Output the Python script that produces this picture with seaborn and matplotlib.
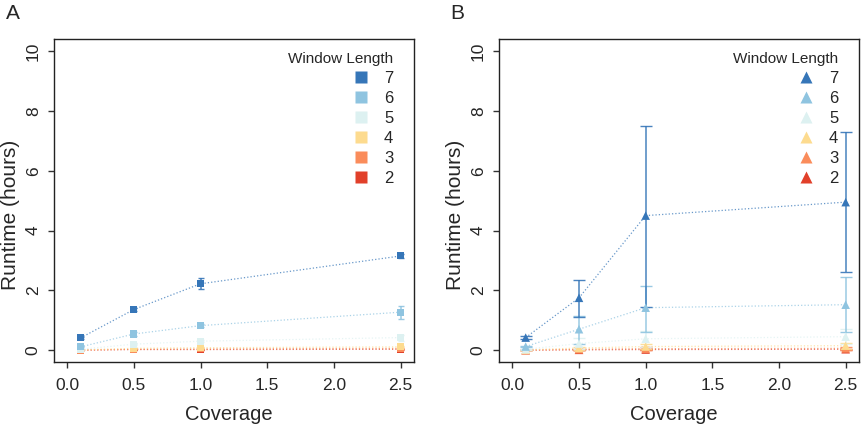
import seaborn as sns
from matplotlib import pyplot as plt
from matplotlib.lines import Line2D
import numpy as np
import pandas as pd

coverage = [0.1, 0.5, 1.0, 2.5]
windows = [7, 6, 5, 4, 3, 2]
colors = ["#3676b8", "#8fc4e0", "#ddf1f1", "#fddb8f", "#fa8c5b", "#e1402a"]

# panel A: mean runtime and half-width of error bars, one row per window length
a_mean = [[0.41, 1.36, 2.22, 3.15],
          [0.11, 0.54, 0.82, 1.27],
          [0.03, 0.20, 0.30, 0.42],
          [0.01, 0.06, 0.08, 0.11],
          [0.00, 0.03, 0.04, 0.06],
          [0.00, 0.02, 0.02, 0.03]]
a_err = [[0.03, 0.04, 0.18, 0.06],
         [0.02, 0.08, 0.04, 0.22],
         [0.01, 0.03, 0.04, 0.10],
         [0.00, 0.01, 0.01, 0.02],
         [0.00, 0.00, 0.01, 0.01],
         [0.00, 0.00, 0.00, 0.01]]

# panel B: mean runtime with lower / upper ends of error bars
b_mean = [[0.42, 1.75, 4.50, 4.95],
          [0.12, 0.70, 1.42, 1.52],
          [0.03, 0.22, 0.38, 0.45],
          [0.01, 0.07, 0.12, 0.15],
          [0.00, 0.03, 0.05, 0.06],
          [0.00, 0.01, 0.02, 0.03]]
b_lo = [[0.38, 1.10, 1.45, 2.60],
        [0.10, 0.22, 0.60, 0.60],
        [0.02, 0.05, 0.10, 0.20],
        [0.00, 0.02, 0.03, 0.05],
        [0.00, 0.01, 0.01, 0.02],
        [0.00, 0.00, 0.00, 0.01]]
b_hi = [[0.46, 2.36, 7.50, 7.30],
        [0.14, 1.13, 2.15, 2.43],
        [0.04, 0.40, 0.65, 0.70],
        [0.02, 0.12, 0.20, 0.25],
        [0.00, 0.05, 0.09, 0.10],
        [0.00, 0.02, 0.04, 0.05]]

sns.set_style("white")
plt.rcParams['font.family'] = ['Liberation Sans', 'DejaVu Sans']


def draw_panel(ax, mean, lo, hi, marker, msize, capsize, letter):
    rows = []
    for w, m in zip(windows, mean):
        for c, v in zip(coverage, m):
            rows.append({'coverage': c, 'runtime': v, 'window': str(w)})
    df = pd.DataFrame(rows)
    pal = dict(zip([str(w) for w in windows], colors))
    # draw smallest window first so 7 ends on top
    order = [str(w) for w in windows][::-1]
    sns.lineplot(data=df, x='coverage', y='runtime', hue='window', hue_order=order,
                 palette=pal, linestyle=':', linewidth=0.9, alpha=0.75,
                 legend=False, ax=ax)
    for i in reversed(range(len(windows))):
        m = np.array(mean[i])
        yerr = np.vstack([m - np.array(lo[i]), np.array(hi[i]) - m])
        ax.errorbar(coverage, m, yerr=yerr, fmt='none', ecolor=colors[i],
                    elinewidth=1.1, capsize=capsize, capthick=1.0, alpha=0.9)
        sns.scatterplot(x=coverage, y=m, color=colors[i], marker=marker, s=msize,
                        edgecolor='none', ax=ax, zorder=3)
    ax.set_xlim(-0.1, 2.6)
    ax.set_ylim(-0.4, 10.4)
    ax.set_xticks([0.0, 0.5, 1.0, 1.5, 2.0, 2.5])
    ax.set_xticklabels(['0.0', '0.5', '1.0', '1.5', '2.0', '2.5'])
    ax.set_yticks([0, 2, 4, 6, 8, 10])
    ax.set_yticklabels(['0', '2', '4', '6', '8', '10'], rotation=90, va='center')
    ax.tick_params(axis='both', direction='out', length=4.5, width=1, labelsize=12.5,
                   color='#333333', bottom=True, left=True)
    ax.tick_params(axis='x', pad=7)
    ax.tick_params(axis='y', pad=5)
    for s in ax.spines.values():
        s.set_color('#222222')
        s.set_linewidth(1.0)
    ax.set_xlabel('Coverage', fontsize=14.5)
    ax.set_ylabel('Runtime (hours)', fontsize=15)
    ax.xaxis.set_label_coords(0.485, -0.132)
    ax.yaxis.set_label_coords(-0.095, 0.455)
    handles = [Line2D([], [], linestyle='none', marker=marker, markersize=8,
                      markerfacecolor=c, markeredgecolor='none') for c in colors]
    ax.legend(handles, [str(w) for w in windows], title='Window Length',
              loc='upper right', bbox_to_anchor=(0.975, 0.997), frameon=False,
              fontsize=12, title_fontsize=11, alignment='right',
              handletextpad=0.4, labelspacing=0.3, borderpad=0.2)
    ax.figure.text(ax.get_position().x0 - 0.056, 0.955, letter, fontsize=15)


fig = plt.figure(figsize=(8.62, 4.26), dpi=100)
ax1 = fig.add_axes([0.0626, 0.150, 0.4176, 0.758])
ax2 = fig.add_axes([0.5789, 0.150, 0.4176, 0.758])

a_lo = [[m - e for m, e in zip(mr, er)] for mr, er in zip(a_mean, a_err)]
a_hi = [[m + e for m, e in zip(mr, er)] for mr, er in zip(a_mean, a_err)]
draw_panel(ax1, a_mean, a_lo, a_hi, 's', 26, 2, 'A')
draw_panel(ax2, b_mean, b_lo, b_hi, '^', 38, 4, 'B')

plt.savefig('out.png', dpi=100)
plt.close()
